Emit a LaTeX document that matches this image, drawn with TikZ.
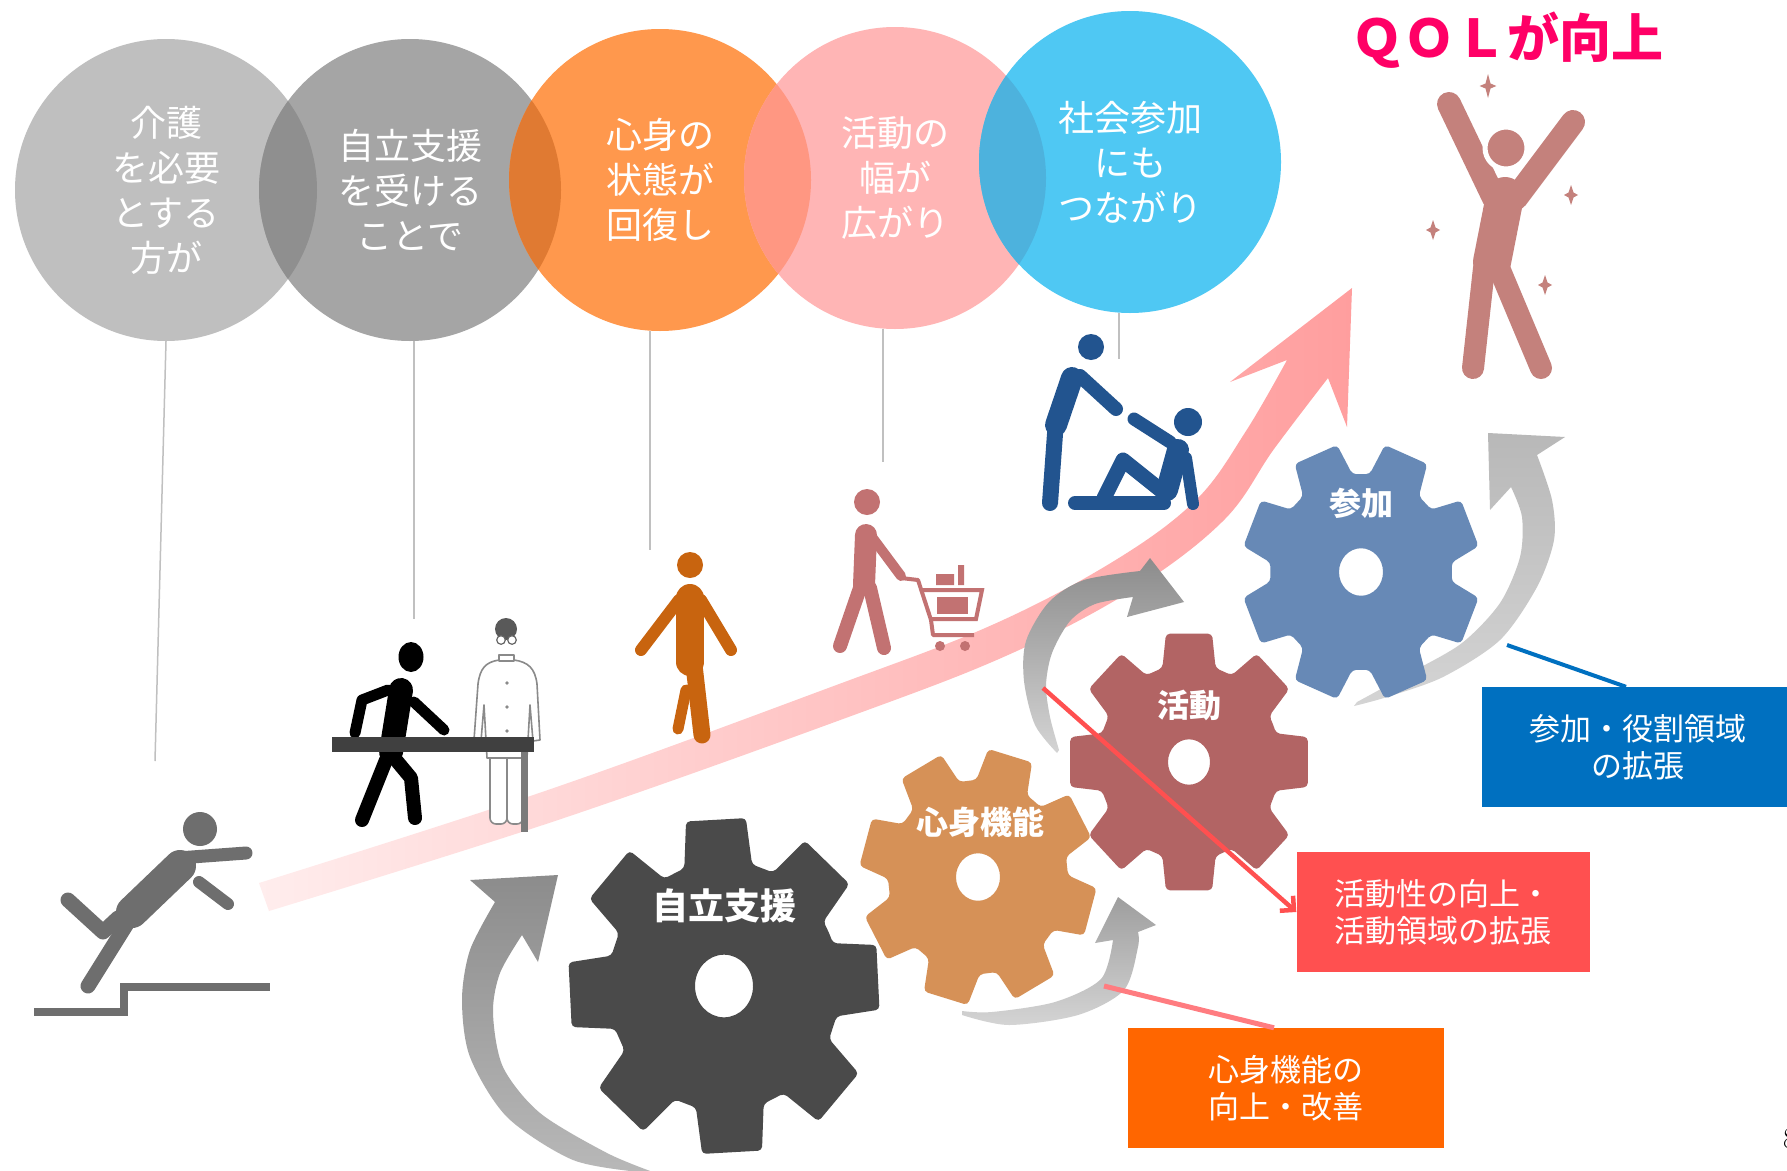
\documentclass[tikz,border=0pt]{standalone}
\usepackage{fontspec}
\newfontfamily\jp{Noto Sans CJK JP}
\usetikzlibrary{arrows.meta}

\definecolor{bubA}{HTML}{BFBFBF}
\definecolor{bubB}{HTML}{A5A5A5}
\definecolor{bubC}{HTML}{FF984D}
\definecolor{bubD}{HTML}{FFB5B5}
\definecolor{bubE}{HTML}{4FC8F3}
\definecolor{lapAB}{HTML}{8F8F8F}
\definecolor{lapBC}{HTML}{E07A32}
\definecolor{lapCD}{HTML}{FF9782}
\definecolor{lapDE}{HTML}{4DB2DD}
\definecolor{stem}{HTML}{C0C0C0}
\definecolor{bandlo}{HTML}{FFEDED}
\definecolor{bandhi}{HTML}{FF9E9E}
\definecolor{fall}{HTML}{6E6E6E}
\definecolor{walk}{HTML}{C8640F}
\definecolor{shop}{HTML}{C27272}
\definecolor{helpblue}{HTML}{22548F}
\definecolor{jump}{HTML}{C4817C}
\definecolor{tabletop}{HTML}{404040}
\definecolor{tableleg}{HTML}{7A7A7A}
\definecolor{coatline}{HTML}{8A8A8A}
\definecolor{arrA}{HTML}{8C8C8C}
\definecolor{arrB}{HTML}{B8B8B8}
\definecolor{arrC}{HTML}{D4D4D4}
\definecolor{cogA}{HTML}{4A4A4A}
\definecolor{cogB}{HTML}{D69157}
\definecolor{cogC}{HTML}{B26464}
\definecolor{cogD}{HTML}{6789B6}
\definecolor{boxblue}{HTML}{0070C0}
\definecolor{boxred}{HTML}{FF5050}
\definecolor{boxorange}{HTML}{FF6600}
\definecolor{linkpink}{HTML}{FF7C80}
\definecolor{qol}{HTML}{FF0066}

% centre, tip radius, root radius, turn, hole radius, colour
\newcommand\gearwheel[6]{%
  \begin{scope}[shift={#1}, yscale=1.08]
    \fill[#6, even odd rule, rounded corners=4pt] (#4-22.5:#3)
      \foreach \k in {0,...,7} {
        -- (#4+\k*45-17:#3) -- (#4+\k*45-11:#2)
        -- (#4+\k*45+11:#2) -- (#4+\k*45+17:#3)}
      -- cycle (0,0) circle (#5);
  \end{scope}}

\tikzset{
  bubble/.style={circle, minimum size=302pt, inner sep=0pt, text=white,
    align=center, font=\jp\fontsize{36}{45}\selectfont},
  limb/.style={line cap=round, line join=round},
  coat/.style={draw=coatline, fill=white, line width=1.6pt, line join=round},
  coglabel/.style={text=white, inner sep=0pt, font=\jp\bfseries\fontsize{32}{32}\selectfont},
  callout/.style={text=white, align=center, minimum height=120pt, inner sep=0pt,
    font=\jp\fontsize{31}{37}\selectfont}
}

\begin{document}
\begin{tikzpicture}[x=1pt, y=-1pt]
  \useasboundingbox (0,0) rectangle (1787,1170);
  \fill[white] (0,0) rectangle (1787,1170);

  % bubbles along the top
  \node[bubble, fill=bubA] (c1) at (166,190) {介護\\を必要\\とする\\方が};
  \node[bubble, fill=bubB] (c2) at (410,190) {自立支援\\を受ける\\ことで};
  \node[bubble, fill=bubC] (c3) at (660,180) {心身の\\状態が\\回復し};
  \node[bubble, fill=bubD] (c4) at (895,178) {活動の\\幅が\\広がり};
  \node[bubble, fill=bubE] (c5) at (1130,162) {社会参加\\にも\\つながり};
  \begin{scope}
    \clip (166,190) circle (151);
    \fill[lapAB] (410,190) circle (151);
  \end{scope}
  \begin{scope}
    \clip (410,190) circle (151);
    \fill[lapBC] (660,180) circle (151);
  \end{scope}
  \begin{scope}
    \clip (660,180) circle (151);
    \fill[lapCD] (895,178) circle (151);
  \end{scope}
  \begin{scope}
    \clip (895,178) circle (151);
    \fill[lapDE] (1130,162) circle (151);
  \end{scope}

  % stems down to the figures
  \coordinate (s1) at (155,761);
  \coordinate (s2) at (414,619);
  \coordinate (s3) at (650,550);
  \coordinate (s4) at (883,462);
  \coordinate (s5) at (1119,359);
  \draw[stem, line width=1.5pt] (c1.south) -- (s1);
  \draw[stem, line width=1.5pt] (c2.south -| s2) -- (s2);
  \draw[stem, line width=1.5pt] (c3.south -| s3) -- (s3);
  \draw[stem, line width=1.5pt] (c4.south -| s4) -- (s4);
  \draw[stem, line width=1.5pt] (c5.south -| s5) -- (s5);

  % rising band
  \shade[left color=bandlo, right color=bandhi]
    plot[smooth, tension=0.6] coordinates {(259,883) (545,791) (831,687) (992,625)
      (1114,561) (1196,500) (1246,431) (1287,360)}
    -- (1230,382) -- (1352,288) -- (1347,427) -- (1328,378)
    -- plot[smooth, tension=0.6] coordinates {(1328,378) (1274,449) (1224,520)
      (1134,589) (1008,655) (843,719) (555,821) (269,911)} -- cycle;

  % falling on the stairs
  \fill[fall] (200,829) circle (17);
  \draw[fall, limb, line width=32pt] (180,866) -- (132,912);
  \draw[fall, limb, line width=13pt] (178,858) -- (246,853);
  \draw[fall, limb, line width=12pt] (199,882) -- (228,904);
  \draw[fall, limb, line width=15pt] (118,918) -- (103,932) -- (68,900);
  \draw[fall, limb, line width=15pt] (128,922) -- (88,986);
  \draw[fall, line width=8pt] (34,1012) -- (124,1012) -- (124,987) -- (270,987);

  % walking at the table with the doctor
  \fill (411,657) ellipse (12.5 and 15);
  \draw[limb, line width=24pt] (401,690) -- (391,752);
  \draw[limb, line width=11pt] (388,690) -- (362,700) -- (355,733);
  \draw[limb, line width=11pt] (414,702) -- (444,730);
  \draw[limb, line width=14pt] (386,760) -- (362,820);
  \draw[limb, line width=14pt] (396,760) -- (411,778) -- (415,818);
  \draw[coat, rounded corners=6pt] (490,750) rectangle (507,824);
  \draw[coat, rounded corners=6pt] (507,750) rectangle (523,824);
  \draw[coat] (499,660) .. controls (486,662) and (480,668) .. (478,684)
    -- (474,740) -- (481,741) -- (484,705) -- (487,758) -- (527,758)
    -- (530,705) -- (533,741) -- (540,740) -- (537,684)
    .. controls (535,668) and (528,662) .. (514,660) -- cycle;
  \draw[coat] (499,655) rectangle (514,661);
  \fill[coatline] (507,683) circle (1.8) (507,707) circle (1.8) (507,731) circle (1.8);
  \fill[black!65] (506,629) circle (11);
  \draw[black!60, fill=white, line width=1.2pt] (501,640) circle (4.3) (512,640) circle (4.3);
  \fill[tabletop] (332,737) rectangle (534,752);
  \fill[tableleg] (521,752) rectangle (528,832);

  % walking alone
  \fill[walk] (690,565) circle (13);
  \draw[walk, limb, line width=28pt] (690,598) -- (690,662);
  \draw[walk, limb, line width=12pt] (679,600) -- (641,650);
  \draw[walk, limb, line width=12pt] (701,600) -- (731,650);
  \draw[walk, limb, line width=17pt] (694,665) -- (702,735);
  \draw[walk, limb, line width=11pt] (686,690) -- (678,729);

  % shopping with a cart
  \fill[shop] (867,502) circle (13);
  \draw[shop, limb, line width=22pt] (866,535) -- (864,585);
  \draw[shop, limb, line width=14pt] (860,588) -- (840,646);
  \draw[shop, limb, line width=14pt] (870,588) -- (884,648);
  \draw[shop, limb, line width=10pt] (872,537) -- (901,576);
  \draw[shop, line width=4pt, line join=round] (901,578) -- (918,580) -- (931,620)
    -- (933,635) -- (974,635);
  \draw[shop, line width=4pt] (922,590) -- (982,590) -- (976,619) -- (931,619);
  \fill[shop] (937,597) rectangle (968,614);
  \fill[shop] (936,574) rectangle (954,585) (958,565) rectangle (964,585);
  \fill[shop] (940,646) circle (5) (965,646) circle (5);

  % helping someone up
  \fill[helpblue] (1091,347) circle (13);
  \draw[helpblue, limb, line width=22pt] (1072,378) -- (1056,425);
  \draw[helpblue, limb, line width=16pt] (1056,420) -- (1050,503);
  \draw[helpblue, limb, line width=14pt] (1080,376) -- (1116,409);
  \fill[helpblue] (1188,422) circle (14);
  \draw[helpblue, limb, line width=22pt] (1178,450) -- (1167,490);
  \draw[helpblue, limb, line width=13pt] (1170,442) -- (1134,419);
  \draw[helpblue, limb, line width=12pt] (1186,458) -- (1193,504);
  \draw[helpblue, limb, line width=15pt] (1163,492) -- (1123,460) -- (1104,498);
  \draw[helpblue, limb, line width=14pt] (1164,503) -- (1075,503);

  % jumping for joy
  \draw[jump, limb, line width=24pt] (1449,104) -- (1494,198);
  \draw[jump, limb, line width=24pt] (1573,122) -- (1516,198);
  \draw[jump, limb, line width=38pt] (1505,196) -- (1492,262);
  \draw[jump, limb, line width=22pt] (1484,268) -- (1473,368);
  \draw[jump, limb, line width=22pt] (1499,268) -- (1541,368);
  \filldraw[jump, draw=white, line width=5pt] (1506,148) circle (21);
  \foreach \x/\y/\s in {1488/86/12, 1571/195/10, 1433/230/10, 1545/285/10}
    \fill[jump] (\x,\y) +(0,-\s) -- +(2.5,-2.5) -- +(0.7*\s,0) -- +(2.5,2.5)
      -- +(0,\s) -- +(-2.5,2.5) -- +(-0.7*\s,0) -- +(-2.5,-2.5) -- cycle;

  % turning arrows round the gears
  \shade[top color=arrA, bottom color=arrB]
    plot[smooth] coordinates {(640,1172) (573,1160) (507,1117) (470,1057)
      (462,1000) (470,950) (495,902)}
    -- (470,880) -- (558,875) -- (538,962) -- (522,935)
    -- plot[smooth] coordinates {(522,935) (500,973) (493,1013) (503,1067)
      (540,1113) (607,1153) (653,1172)} -- cycle;
  \shade[top color=arrA, bottom color=arrC]
    plot[smooth] coordinates {(1057,753) (1035,725) (1024,681) (1026,641)
      (1049,602) (1084,580) (1140,571)}
    -- (1150,558) -- (1184,602) -- (1127,617) -- (1133,597)
    -- plot[smooth] coordinates {(1133,597) (1095,604) (1070,621) (1052,653)
      (1046,685) (1050,717) (1059,750)} -- cycle;
  \shade[top color=arrB!80!black!90, bottom color=arrC]
    (1138,932) -- (1156,925) -- (1118,897) -- (1095,943) -- (1113,940)
    -- plot[smooth] coordinates {(1113,940) (1101,979) (1055,1002) (992,1012) (962,1011)}
    -- plot[smooth] coordinates {(962,1015) (1009,1025) (1078,1015) (1124,990)
      (1138,947) (1138,932)} -- cycle;
  \shade[top color=arrB, bottom color=arrC]
    (1537,455) -- (1565,437) -- (1488,433) -- (1490,510) -- (1511,487)
    -- plot[smooth] coordinates {(1511,487) (1522,517) (1520,557) (1500,603)
      (1462,643) (1410,673) (1357,702)}
    -- plot[smooth] coordinates {(1354,706) (1387,697) (1443,677) (1500,640)
      (1537,587) (1554,540) (1552,500) (1537,455)} -- cycle;

  % gears
  \gearwheel{(724,986)}{157}{116}{-3}{29}{cogA}
  \gearwheel{(978,877)}{119}{90}{-29}{22}{cogB}
  \gearwheel{(1189,762)}{121}{91}{0}{21}{cogC}
  \gearwheel{(1361,572)}{120}{91}{22.5}{22}{cogD}
  \node[coglabel, font=\jp\bfseries\fontsize{36}{36}\selectfont] (g1) at (724,906) {自立支援};
  \node[coglabel] (g2) at (980,822) {心身機能};
  \node[coglabel] (g3) at (1189,705) {活動};
  \node[coglabel] (g4) at (1361,503) {参加};

  % call-outs
  \node[callout, fill=boxblue, minimum width=313pt] (bluebox) at (1638,747) {参加・役割領域\\の拡張};
  \node[callout, fill=boxred, minimum width=293pt] (redbox) at (1443,912) {活動性の向上・\\活動領域の拡張};
  \node[callout, fill=boxorange, minimum width=316pt] (orangebox) at (1286,1088) {心身機能の\\向上・改善};
  \coordinate (bluefoot) at (1507,645);
  \coordinate (redfoot) at (1043,688);
  \coordinate (orangefoot) at (1104,986);
  \draw[boxblue, line width=4pt] (bluefoot) -- ([xshift=-12pt]bluebox.north);
  \draw[boxred, line width=4.5pt, -{Straight Barb[length=10pt]}] (redfoot) -- (redbox.west);
  \draw[linkpink, line width=5pt] (orangefoot) -- ([xshift=-12pt]orangebox.north);

  \node[text=qol, inner sep=0pt, font=\jp\bfseries\fontsize{52}{60}\selectfont] (qol) at (1507,40) {ＱＯＬが向上};
  \node[anchor=west, inner sep=0pt, font=\fontsize{30}{30}\selectfont] (pageno) at (1783,1139) {8};
\end{tikzpicture}
\end{document}
